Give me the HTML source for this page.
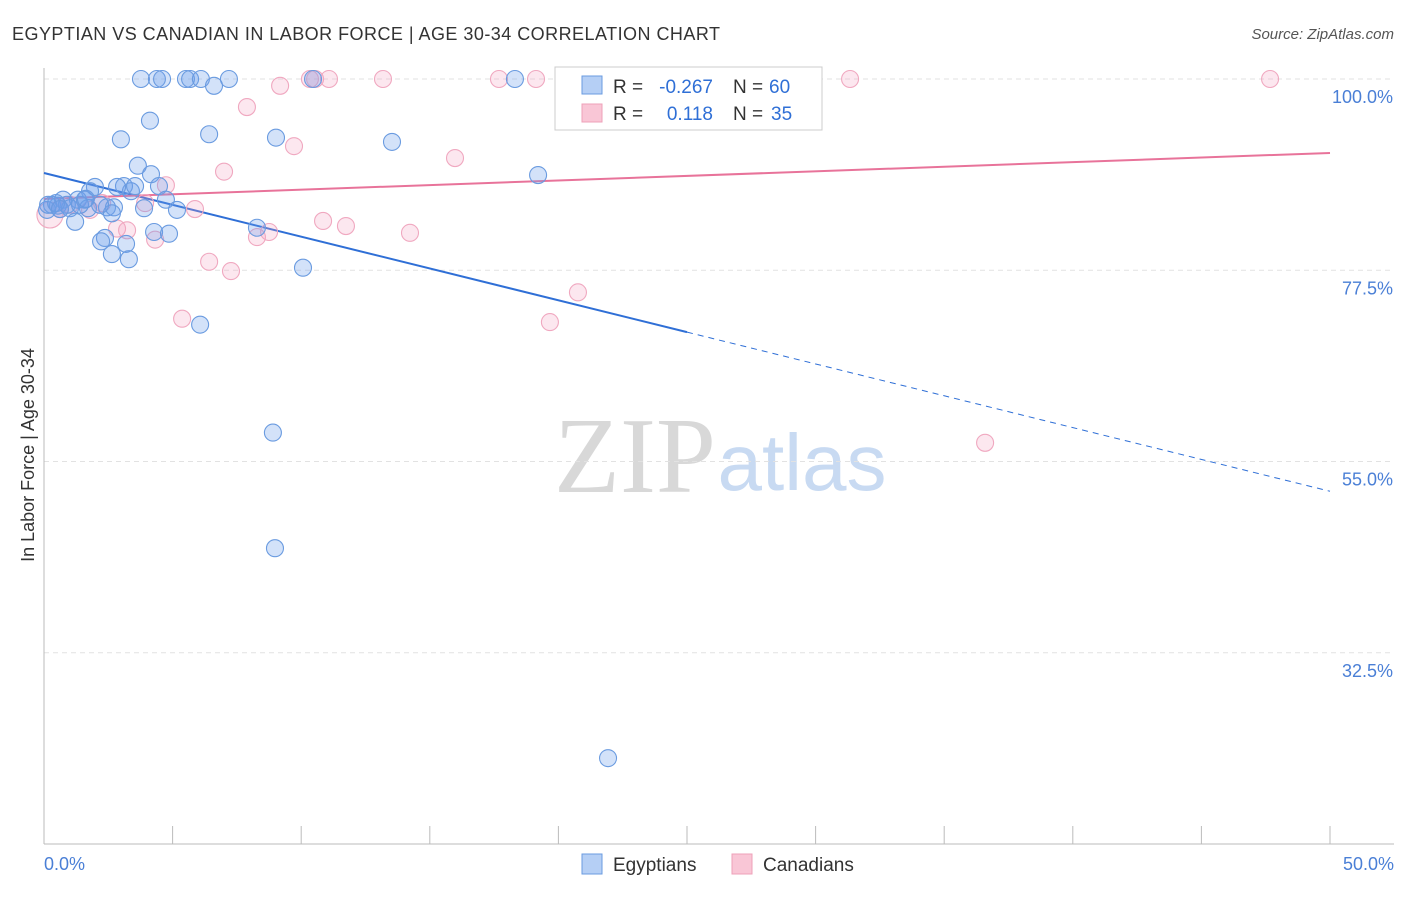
<!DOCTYPE html>
<html><head><meta charset="utf-8"><style>
body{margin:0;background:#fff;font-family:"Liberation Sans",sans-serif}
</style></head><body>
<svg id="chart" width="1406" height="892" xmlns="http://www.w3.org/2000/svg">
<text x="12" y="40" font-size="18" fill="#333" textLength="708">EGYPTIAN VS CANADIAN IN LABOR FORCE | AGE 30-34 CORRELATION CHART</text>
<text x="1394" y="39" font-size="15" fill="#555" font-style="italic" text-anchor="end">Source: ZipAtlas.com</text>
<text x="34" y="455" font-size="18" fill="#333" text-anchor="middle" transform="rotate(-90 34 455)">In Labor Force | Age 30-34</text>
<g>
<text x="635" y="492" font-size="108" fill="#d8d8d8" font-family="Liberation Serif,serif" text-anchor="middle">ZIP</text>
<text x="802" y="490" font-size="80" fill="#c8daf2" text-anchor="middle">atlas</text>
</g>
<g id="grid"></g><g id="axes"></g><g id="trends"></g><g id="points"></g>
<g>
<rect x="555" y="67" width="267" height="63" fill="#fff" stroke="#ccc"/>
<rect x="582" y="76" width="20" height="18" fill="#b5cff5" stroke="#6a9be0"/>
<rect x="582" y="104" width="20" height="18" fill="#f9c6d6" stroke="#eea0b8"/>
<text x="613" y="93" font-size="19" fill="#333">R =</text>
<text x="713" y="93" font-size="19" fill="#2f6fd6" text-anchor="end">-0.267</text>
<text x="733" y="93" font-size="19" fill="#333">N =</text>
<text x="769" y="93" font-size="19" fill="#2f6fd6">60</text>
<text x="613" y="120" font-size="19" fill="#333">R =</text>
<text x="713" y="120" font-size="19" fill="#2f6fd6" text-anchor="end">0.118</text>
<text x="733" y="120" font-size="19" fill="#333">N =</text>
<text x="771" y="120" font-size="19" fill="#2f6fd6">35</text>
</g>
<g>
<rect x="582" y="854" width="20" height="20" fill="#b5cff5" stroke="#6a9be0"/>
<text x="613" y="871" font-size="19" fill="#333">Egyptians</text>
<rect x="732" y="854" width="20" height="20" fill="#f9c6d6" stroke="#eea0b8"/>
<text x="763" y="871" font-size="19" fill="#333">Canadians</text>
</g>
</svg>
<script>
const yTicks=[100,77.5,55,32.5];
const yTickLabels=["100.0%","77.5%","55.0%","32.5%"];
const xTickLabels=["0.0%","50.0%"];
const blueX=[3.77,4.39,4.59,5.52,5.68,6.10,7.19,6.61,10.46,18.31,4.12,2.99,6.42,9.02,13.53,3.65,4.16,19.21,4.47,1.98,3.11,3.38,2.84,1.79,0.74,1.32,1.59,0.31,0.54,0.12,0.89,1.01,1.71,2.45,2.72,2.64,3.89,4.74,5.17,1.21,4.28,4.86,8.28,2.37,2.22,3.19,2.64,3.30,10.07,6.07,8.90,8.98,21.93,0.16,0.47,0.62,2.18,1.40,1.63,3.54];
const blueY=[100,100,100,100,100,100,100,99.2,100,100,95.1,92.9,93.5,93.1,92.6,89.8,88.8,88.7,87.4,87.3,87.4,86.8,87.3,86.8,85.8,85.8,85.8,85.2,85.1,84.6,85.2,84.8,84.8,84.9,84.9,84.2,84.8,85.8,84.6,83.2,82.0,81.8,82.5,81.3,80.9,80.6,79.4,78.8,77.8,71.1,58.4,44.8,20.1,85.2,85.4,84.7,85.2,85.2,85.9,87.4];
const pinkX=[10.34,11.08,13.18,17.69,19.13,31.34,47.67,9.18,10.54,7.89,9.72,15.98,7.00,4.74,5.87,0.23,0.62,1.01,2.26,3.93,10.85,11.74,14.23,8.28,8.75,2.84,3.23,4.32,6.42,7.27,20.76,5.37,19.67,36.59,1.79];
const pinkY=[100,100,100,100,100,100,100,99.2,100,96.7,92.1,90.7,89.1,87.5,84.7,84.0,84.7,85.2,85.4,85.4,83.3,82.7,81.9,81.4,82.0,82.4,82.2,81.1,78.5,77.4,74.9,71.8,71.4,57.2,84.6];
const blueTrend=[88.94,51.5];
const pinkTrend=[85.9,91.3];
const NS="http://www.w3.org/2000/svg";
const xs=v=>44+v*25.72;
const ys=v=>79+(100-v)*8.5;
function mk(parent,tag,attrs){const e=document.createElementNS(NS,tag);for(const k in attrs)e.setAttribute(k,attrs[k]);document.getElementById(parent).appendChild(e);return e;}
yTicks.forEach((t,i)=>{
 const g=mk('grid','line',{x1:44,x2:1394,y1:ys(t),y2:ys(t),stroke:'#e2e2e2','stroke-dasharray':'5,4'});
 
 
 const l=mk('grid','text',{x:1393,y:ys(t)+24,'font-size':18,fill:'#4a7fd6','text-anchor':'end'});
 l.textContent=yTickLabels[i];
 
 
});
const ax=mk('axes','line',{x1:44,x2:44,y1:68,y2:844,stroke:'#bbb'});


const bx=mk('axes','line',{x1:44,x2:1394,y1:844,y2:844,stroke:'#bbb'});


for(let i=0;i<=10;i++){const t=mk('axes','line',{x1:xs(i*5),x2:xs(i*5),y1:826,y2:844,stroke:'#bbb'});
 
 }
[[0,'start',44],[50,'end',1394]].forEach((d,i)=>{const t=mk('axes','text',{x:d[2],y:870,'font-size':18,fill:'#4a7fd6','text-anchor':d[1]});t.textContent=xTickLabels[i];
 
 });
const bv=x=>blueTrend[0]+(blueTrend[1]-blueTrend[0])*x/50;
const b1=mk('trends','line',{x1:xs(0),y1:ys(bv(0)),x2:xs(25),y2:ys(bv(25)),stroke:'#2f6fd6','stroke-width':2});


const b2=mk('trends','line',{x1:xs(25),y1:ys(bv(25)),x2:xs(50),y2:ys(bv(50)),stroke:'#2f6fd6','stroke-width':1,'stroke-dasharray':'6,5'});


const p1=mk('trends','line',{x1:xs(0),y1:ys(pinkTrend[0]),x2:xs(50),y2:ys(pinkTrend[1]),stroke:'#e8739a','stroke-width':2});


pinkX.forEach((x,i)=>{const c=mk('points','circle',{cx:xs(x),cy:ys(pinkY[i]),r:i==15?13:8.5,fill:'rgba(245,160,190,0.25)',stroke:'#f0a8c0','stroke-width':1.1});
 
 });
blueX.forEach((x,i)=>{const c=mk('points','circle',{cx:xs(x),cy:ys(blueY[i]),r:8.5,fill:'rgba(110,160,235,0.3)',stroke:'#6a9be0','stroke-width':1.1});
 
 });
</script>
</body></html>
